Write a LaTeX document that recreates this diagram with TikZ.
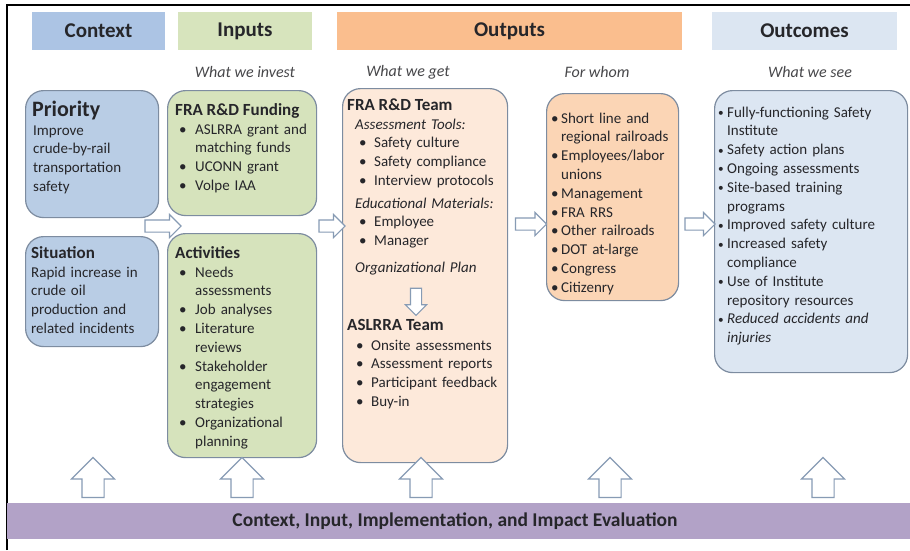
\documentclass[tikz,border=0pt]{standalone}
\usepackage{fontspec}
\setmainfont{Carlito}
\usetikzlibrary{shapes.arrows,calc}
\definecolor{ctxH}{RGB}{172,196,228}
\definecolor{ctxB}{RGB}{185,205,229}
\definecolor{inH}{RGB}{215,228,189}
\definecolor{inB}{RGB}{214,227,188}
\definecolor{outH}{RGB}{250,190,142}
\definecolor{outB}{RGB}{253,233,218}
\definecolor{whoB}{RGB}{251,213,181}
\definecolor{ocH}{RGB}{220,230,242}
\definecolor{ocB}{RGB}{220,230,242}
\definecolor{barC}{RGB}{178,162,199}
\definecolor{edgeC}{RGB}{125,140,160}
\definecolor{arrC}{RGB}{135,155,180}
\definecolor{ink}{RGB}{38,38,42}
\newlength\bpre
\newlength\bwid
\newcommand\bu{\makebox[\bwid][l]{\hspace{\bpre}\textbullet}}
\newcommand\sbu{\makebox[\bwid][l]{\hspace{\bpre}\raisebox{0.5pt}{\scalebox{0.75}{\textbullet}}}}
\newcommand\ct{\makebox[\bwid][l]{}}
\begin{document}
\begin{tikzpicture}[x=1pt,y=-1pt,
  hdr/.style={minimum height=38pt, inner sep=0pt, text=ink, font=\fontsize{21}{24}\selectfont\bfseries},
  sub/.style={inner sep=0pt, text=ink!85, font=\fontsize{16}{19}\selectfont\itshape},
  box/.style={draw=edgeC, line width=1.2pt, rounded corners=18pt, inner sep=0pt, anchor=north west},
  ttl/.style={anchor=base west, inner sep=0pt, text=ink, font=\fontsize{17}{20}\selectfont\bfseries},
  txt/.style={anchor=base west, inner sep=0pt, align=left, text width=#1, text=ink, font=\fontsize{15}{18.8}\selectfont},
  harr/.style={single arrow, draw=arrC, fill=white, line width=1.1pt, inner xsep=0pt, inner ysep=5.5pt, minimum width=23pt, single arrow head extend=5.5pt},
  varr/.style={single arrow, draw=arrC, fill=white, line width=1.1pt, inner xsep=0pt, inner ysep=5pt, minimum width=20pt, minimum height=27pt, single arrow head extend=5pt, rotate=-90},
  uarr/.style={single arrow, draw=arrC, fill=white, line width=1.1pt, inner xsep=0pt, inner ysep=10.5pt, minimum width=42pt, minimum height=40pt, single arrow head extend=10.5pt, rotate=90}]
\useasboundingbox (0,0) rectangle (910,550);
\fill[white] (0,0) rectangle (910,550);
% frame
\coordinate (fa) at (7,550);
\coordinate (fb) at (7,5);
\coordinate (fc) at (910,5);
\draw[line width=2.5pt] (fa) -- (fb) -- (fc);
% headers
\node[hdr, fill=ctxH, minimum width=133pt] (hctx) at (98.5,31) {Context};
\node[hdr, fill=inH, minimum width=134pt] (hin) at (245,31) {Inputs};
\node[hdr, fill=outH, minimum width=345pt] (hout) at (509.5,31) {Outputs};
\node[hdr, fill=ocH, minimum width=185pt] (hoc) at (804.5,31) {Outcomes};
% subtitles
\node[sub] (s1) at (245,72) {What we invest};
\node[sub] (s2) at (408,72) {What we get};
\node[sub] (s3) at (597,72) {For whom};
\node[sub] (s4) at (810,72) {What we see};
% boxes
\node[box, fill=ctxB, minimum width=133pt, minimum height=127pt] (prio) at (25,90) {};
\node[box, fill=ctxB, minimum width=133pt, minimum height=110pt] (sit) at (25,236) {};
\node[box, fill=inB, minimum width=149pt, minimum height=125pt] (fund) at (167,90) {};
\node[box, fill=inB, minimum width=149pt, minimum height=224pt] (act) at (167,233) {};
\node[box, fill=outB, minimum width=165pt, minimum height=374pt] (outb) at (342,88) {};
\node[box, fill=whoB, minimum width=132pt, minimum height=207pt] (who) at (546,93) {};
\node[box, fill=ocB, minimum width=193pt, minimum height=282pt] (oc) at (714,90) {};
% Priority
\node[ttl, font=\fontsize{22}{24}\selectfont\bfseries] (tprio) at (32,116) {Priority};
\node[txt=120pt] (bprio) at (33,135) {Improve\\crude-by-rail\\transportation\\safety};
% Situation
\node[ttl] (tsit) at (31,258) {Situation};
\node[txt=125pt] (bsit) at (31,277) {Rapid increase in\\crude oil\\production and\\related incidents};
% Funding
\node[ttl] (tfund) at (175,115) {FRA R\&D Funding};
\node[txt=140pt] (bfund) at (175,134) {\setlength\bpre{4pt}\setlength\bwid{20pt}%
\bu ASLRRA grant and\\\ct matching funds\\\bu UCONN grant\\\bu Volpe IAA};
% Activities
\node[ttl] (tact) at (175,258) {Activities};
\node[txt=140pt] (bact) at (175,277) {\setlength\bpre{4pt}\setlength\bwid{20pt}%
\bu Needs\\\ct assessments\\\bu Job analyses\\\bu Literature\\\ct reviews\\\bu Stakeholder\\\ct engagement\\\ct strategies\\\bu Organizational\\\ct planning};
% Outputs
\node[ttl] (tout) at (347,110) {FRA R\&D Team};
\node[txt=150pt] (bout1) at (355,129) {\setlength\bpre{4pt}\setlength\bwid{19pt}%
\textit{Assessment Tools:}\\\bu Safety culture\\\bu Safety compliance\\\bu Interview protocols};
\node[txt=150pt] (bout2) at (355,208) {\setlength\bpre{4pt}\setlength\bwid{19pt}%
\textit{Educational Materials:}\\\bu Employee\\\bu Manager};
\node[txt=150pt] (bout3) at (355,272) {\textit{Organizational Plan}};
\node[ttl] (tasl) at (347,330) {ASLRRA Team};
\node[txt=150pt] (bout4) at (352,350) {\setlength\bpre{4pt}\setlength\bwid{19pt}%
\bu Onsite assessments\\\bu Assessment reports\\\bu Participant feedback\\\bu Buy-in};
% For whom
\node[txt=128pt] (bwho) at (551,123) {\setlength\bpre{0pt}\setlength\bwid{10pt}%
\bu Short line and\\\ct regional railroads\\\bu Employees/labor\\\ct unions\\\bu Management\\\bu FRA RRS\\\bu Other railroads\\\bu DOT at-large\\\bu Congress\\\bu Citizenry};
% Outcomes
\node[txt=185pt] (boc) at (718,117) {\setlength\bpre{0pt}\setlength\bwid{9pt}%
\sbu Fully-functioning Safety\\\ct Institute\\\sbu Safety action plans\\\sbu Ongoing assessments\\\sbu Site-based training\\\ct programs\\\sbu Improved safety culture\\\sbu Increased safety\\\ct compliance\\\sbu Use of Institute\\\ct repository resources\\\sbu \textit{Reduced accidents and}\\\ct \textit{injuries}};
% arrows between columns
\node[harr, minimum height=36pt] (a1) at (160,226) {};
\node[harr, minimum height=26pt] (a2) at (329,226) {};
\node[harr, minimum height=31pt] (a3) at (528,224) {};
\node[harr, minimum height=30pt] (a4) at (697,224) {};
\node[varr] (a5) at (416,299) {};
% bottom bar
\node[fill=barC, inner sep=0pt, minimum width=903pt, minimum height=36pt, anchor=north west] (bar) at (7,503) {};
\node[inner sep=0pt, text=ink, font=\fontsize{19.5}{22}\selectfont\bfseries] (bart) at (455,521) {Context, Input, Implementation, and Impact Evaluation};
% up arrows
\node[uarr] (u1) at (93,483) {};
\node[uarr] (u2) at (242,483) {};
\node[uarr] (u3) at (421,483) {};
\node[uarr] (u4) at (610,483) {};
\node[uarr] (u5) at (823,483) {};
\end{tikzpicture}
\end{document}
